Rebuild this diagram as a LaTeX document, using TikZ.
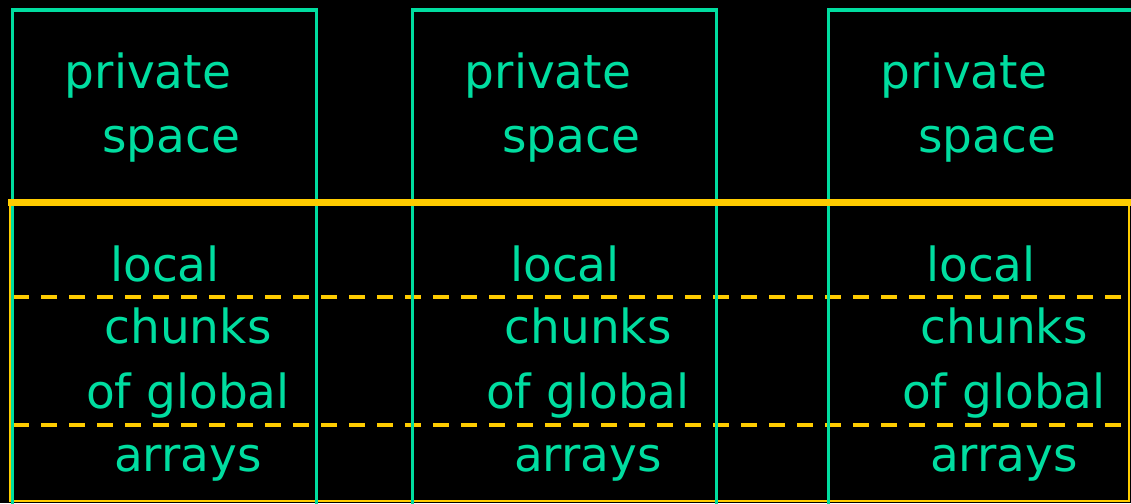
\documentclass[tikz,border=0pt]{standalone}
\usepackage{fontspec}
\setmainfont{DejaVu Sans}
\definecolor{mint}{HTML}{00DDA0}
\definecolor{gold}{HTML}{FFCC00}
\begin{document}
\begin{tikzpicture}[x=1pt,y=-1pt,
  word/.style={anchor=base, inner sep=0pt, text=mint, font=\fontsize{47}{47}\selectfont},
  procbox/.style={draw=mint, line width=3.6pt},
  sharedrim/.style={draw=gold, line width=2pt},
  sharedtop/.style={draw=gold, line width=7pt},
  splitline/.style={draw=gold, line width=4pt, dash pattern=on 16pt off 12pt}]
  \useasboundingbox[fill=black] (0,0) rectangle (1131,503);
  \clip (0,0) rectangle (1131,503);

  % shared (global) region
  \draw[sharedrim] (10,202) rectangle (1129,501);
  \coordinate (d1w) at (13,297);  \coordinate (d1e) at (1121,297);
  \coordinate (d2w) at (13,425);  \coordinate (d2e) at (1121,425);
  \draw[splitline] (d1w) -- (d1e);
  \draw[splitline] (d2w) -- (d2e);

  % one column per process
  \foreach \i/\dx/\w in {1/0/304, 2/400/304, 3/816/330} {
    \draw[procbox] (12.5+\dx,10) rectangle ++(\w,520);
    \node[word] (priv\i)   at (148+\dx, 88)  {private};
    \node[word] (space\i)  at (171+\dx,152)  {space};
    \node[word] (local\i)  at (165+\dx,281)  {local};
    \node[word] (chunk\i)  at (188+\dx,343)  {chunks};
    \node[word] (ofglob\i) at (188+\dx,408)  {of global};
    \node[word] (arr\i)    at (188+\dx,471)  {arrays};
  }

  % boundary between private and shared space
  \coordinate (tw) at (8,202);  \coordinate (te) at (1131,202);
  \draw[sharedtop] (tw) -- (te);
\end{tikzpicture}
\end{document}
